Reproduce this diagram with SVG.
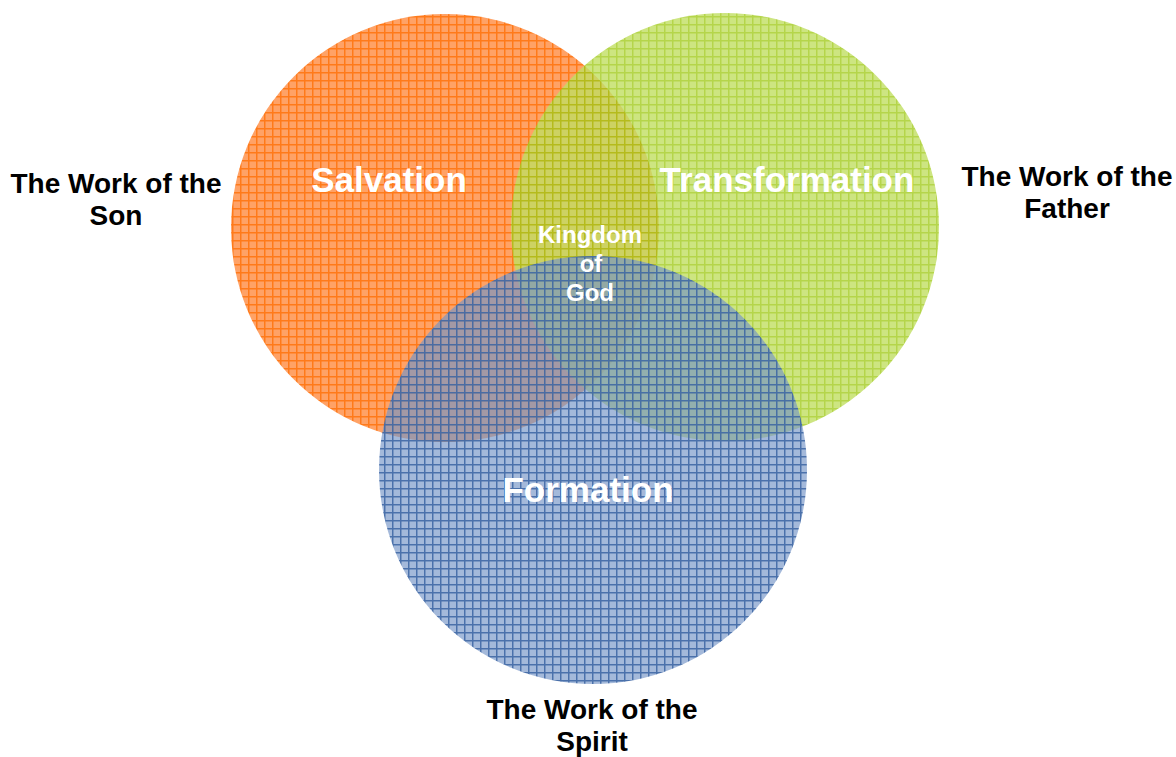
<svg xmlns="http://www.w3.org/2000/svg" width="1176" height="757" viewBox="0 0 1176 757">
<style>
.big{font-family:"Liberation Sans",Arial,sans-serif;font-weight:bold;fill:#fff;text-anchor:middle;font-size:35px}
.mid{font-family:"Liberation Sans",Arial,sans-serif;font-weight:bold;fill:#fff;text-anchor:middle;font-size:24px}
.lbl{font-family:"Liberation Sans",Arial,sans-serif;font-weight:bold;fill:#000;text-anchor:middle;font-size:28px}
</style>
<defs>
<pattern id="pO" width="8" height="8" patternUnits="userSpaceOnUse">
<rect width="8" height="8" fill="#FFA266"/><path d="M0 0.75H8M0.75 0V8" stroke="#FF7A1A" stroke-width="1.5"/>
</pattern>
<pattern id="pG" width="8" height="8" patternUnits="userSpaceOnUse">
<rect width="8" height="8" fill="#C0DE62"/><path d="M0 0.75H8M0.75 0V8" stroke="#A2CB1E" stroke-width="1.5"/>
</pattern>
<pattern id="pB" width="8" height="8" patternUnits="userSpaceOnUse">
<rect width="8" height="8" fill="#7393C6" fill-opacity="0.65"/><path d="M0 0.75H8M0.75 0V8" stroke="#4169A6" stroke-opacity="0.9" stroke-width="1.5"/>
</pattern>
</defs>
<rect width="1176" height="757" fill="#fff"/>
<g id="salvation">
<circle cx="445" cy="228" r="214" fill="url(#pO)"/>
</g>
<g id="transformation">
<circle cx="725" cy="227" r="214" fill="url(#pG)" opacity="0.8"/>
</g>
<g id="formation">
<circle cx="593" cy="470" r="214" fill="url(#pB)"/>
</g>
<g id="labels-circles">
<text class="big" x="389" y="192">Salvation</text>
<text class="big" x="787" y="192">Transformation</text>
<text class="big" x="588" y="502">Formation</text>
</g>
<g id="kingdom">
<text class="mid" x="590" y="243">Kingdom</text>
<text class="mid" x="591" y="272">of</text>
<text class="mid" x="590" y="301">God</text>
</g>
<g id="son">
<text class="lbl" x="116" y="193">The Work of the</text>
<text class="lbl" x="116" y="225">Son</text>
</g>
<g id="father">
<text class="lbl" x="1067" y="186">The Work of the</text>
<text class="lbl" x="1067" y="218">Father</text>
</g>
<g id="spirit">
<text class="lbl" x="592" y="719">The Work of the</text>
<text class="lbl" x="592" y="751">Spirit</text>
</g>
<g id="connectors"/>
</svg>
